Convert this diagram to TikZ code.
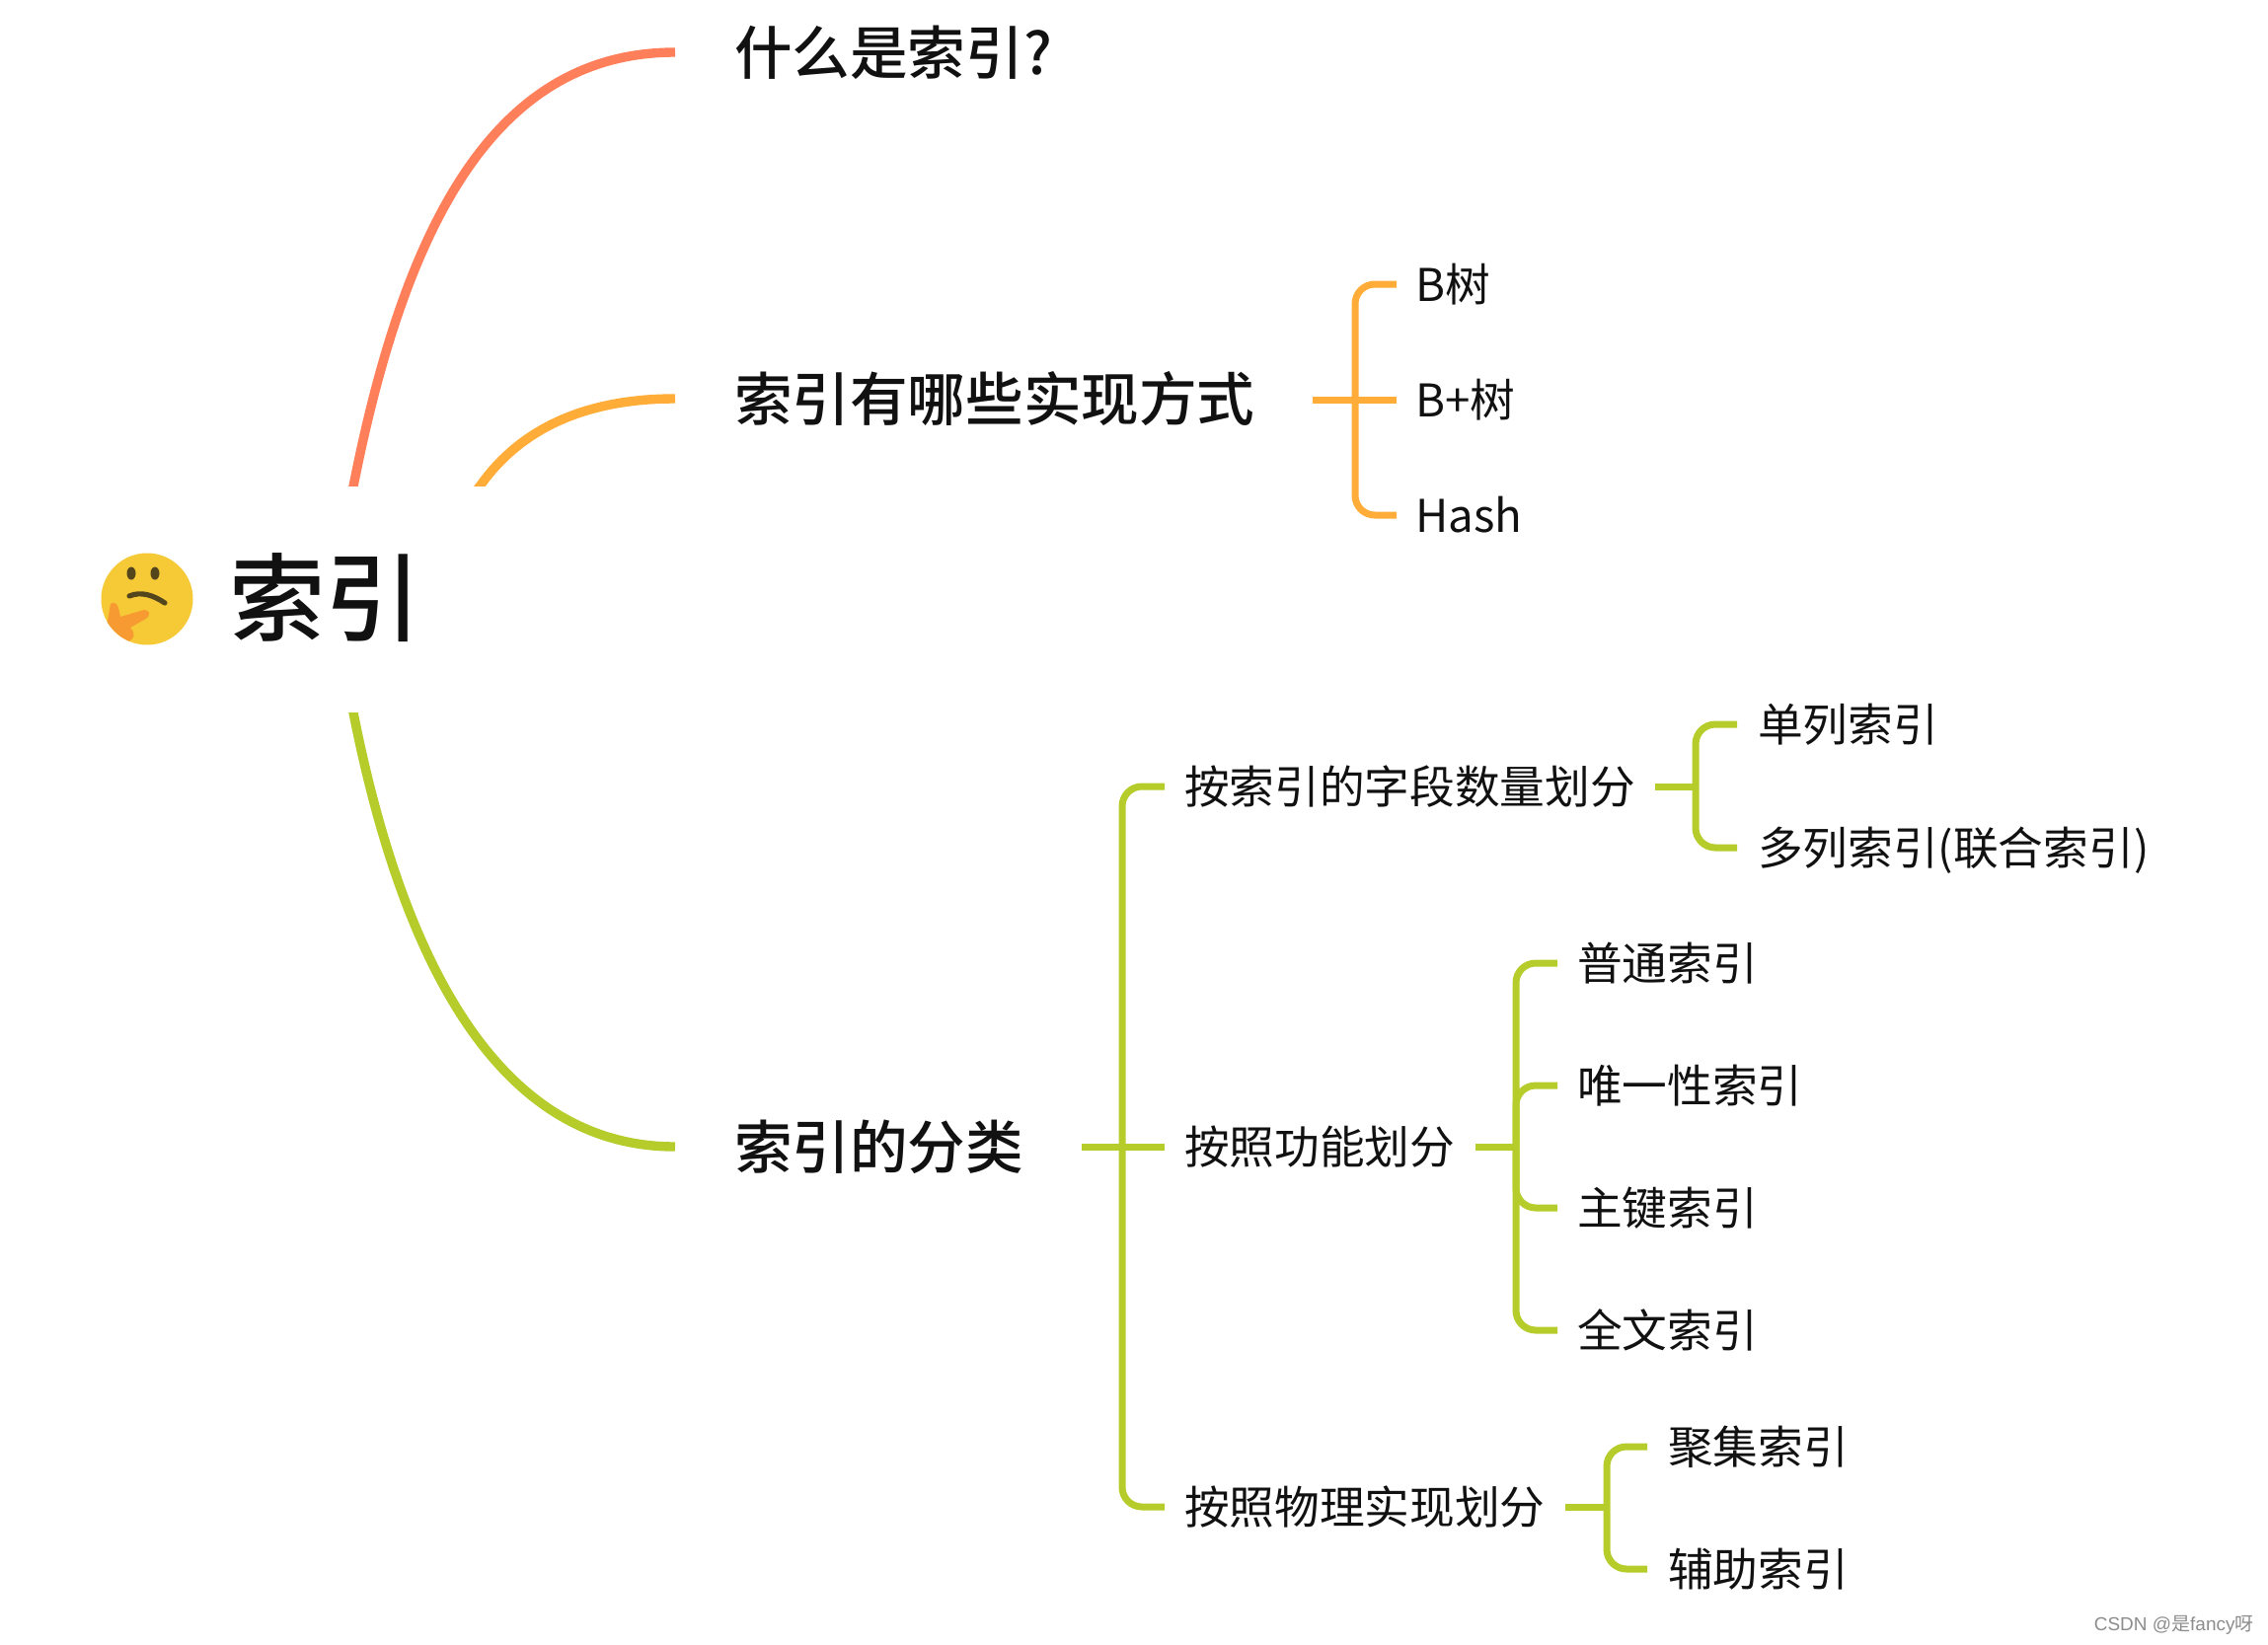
\documentclass[tikz,border=0pt]{standalone}
\usepackage{fontspec}
\usetikzlibrary{calc}
\newfontfamily\cjk{Noto Sans CJK SC}
\newfontfamily\cjkbold{Noto Sans CJK SC Medium}
\definecolor{cRed}{HTML}{FF7F5A}
\definecolor{cOrg}{HTML}{FFAC38}
\definecolor{cGrn}{HTML}{B5CC2B}
\definecolor{cInk}{HTML}{111111}
\definecolor{cFace}{HTML}{F6C936}
\definecolor{cHand}{HTML}{F79A32}
\definecolor{cEye}{HTML}{54461C}
\tikzset{
  x=0.5pt,y=-0.5pt,
  txt/.style={anchor=west,inner sep=0pt,outer sep=0pt,text=cInk},
  rootn/.style={txt,font=\cjkbold\fontsize{48.5}{52}\selectfont,text height=42.7pt,text depth=5.8pt},
  lone/.style={txt,font=\cjkbold\fontsize{29.3}{32}\selectfont,text height=25.8pt,text depth=3.5pt},
  ltwo/.style={txt,font=\cjk\fontsize{22.85}{25}\selectfont,text height=20.1pt,text depth=2.75pt},
  curve/.style={line width=4.7pt,line cap=butt},
  brk/.style={line width=3.5pt,rounded corners=10pt,line cap=butt},
}
\begin{document}
\begin{tikzpicture}
\useasboundingbox (0,0) rectangle (2298,1666);
% level 1
\node[lone] (a) at (744,53) {什么是索引?};
\node[lone] (b) at (744,404) {索引有哪些实现方式};
\node[lone] (c) at (744,1162) {索引的分类};
\coordinate (rA) at (358,493);
\coordinate (rB) at (486,493);
\coordinate (rC) at (358,722);
\draw[curve,cRed] ($(rA)+(-5,22)$) -- (rA) .. controls (410,230) and (500,53) .. ($(a.west)+(-60,0)$);
\draw[curve,cOrg] ($(rB)+(-16,20)$) -- (rB) .. controls (530,430) and (600,404) .. ($(b.west)+(-60,0)$);
\draw[curve,cGrn] ($(rC)+(-5,-22)$) -- (rC) .. controls (410,985) and (510,1162) .. ($(c.west)+(-60,0)$);
\fill[white] (100,493) rectangle (700,722);
% root
\node[rootn] (root) at (232,606) {索引};
% emoji
\fill[cFace] (149,607) circle (46.5);
\begin{scope}
\clip (149,607) circle (46.5);
\fill[cHand] (112,612) .. controls (118,608) and (120,614) .. (122,625) -- (146,618) .. controls (152,618) and (154,624) .. (146,628) -- (132,636) .. controls (138,642) and (136,648) .. (130,650) -- (100,650) -- (100,640) .. controls (110,640) and (110,620) .. (112,612) -- cycle;
\end{scope}
\fill[cEye] (133,581) ellipse (4.5 and 6.5);
\fill[cEye] (157,581) ellipse (4.5 and 6.5);
\draw[line width=2.6pt,line cap=round,draw=cEye] (131,604) .. controls (143,599) and (155,603) .. (167,611);
% B group
\node[ltwo] (b1) at (1434,288) {B树};
\node[ltwo] (b2) at (1434,405) {B+树};
\node[ltwo] (b3) at (1434,522) {Hash};
\coordinate (jb) at (1373,405);
\draw[brk,cOrg] ($(b1.west)+(-19,0)$) -| (jb) |- ($(b3.west)+(-19,0)$);
\draw[brk,cOrg] (1330,405) -- ($(b2.west)+(-19,0)$);
% classification
\node[ltwo] (p1) at (1200,797) {按索引的字段数量划分};
\node[ltwo] (p2) at (1200,1162) {按照功能划分};
\node[ltwo] (p3) at (1200,1527) {按照物理实现划分};
\coordinate (jc) at (1137,1162);
\draw[brk,cGrn] ($(p1.west)+(-20,0)$) -| (jc) |- ($(p3.west)+(-20,0)$);
\draw[brk,cGrn] ($(c.east)+(59,0)$) -- ($(p2.west)+(-20,0)$);
% group 1
\node[ltwo] (q1) at (1781,734) {单列索引};
\node[ltwo] (q2) at (1781,859) {多列索引(联合索引)};
\coordinate (j1) at (1718,797);
\draw[brk,cGrn] ($(q1.west)+(-21,0)$) -| (j1) |- ($(q2.west)+(-21,0)$);
\draw[brk,cGrn] (1677,797) -- (j1);
% group 2
\node[ltwo] (r1) at (1598,976) {普通索引};
\node[ltwo] (r2) at (1598,1100) {唯一性索引};
\node[ltwo] (r3) at (1598,1224) {主键索引};
\node[ltwo] (r4) at (1598,1348) {全文索引};
\coordinate (j2) at (1536,1162);
\draw[brk,cGrn] ($(r1.west)+(-20,0)$) -| (j2) |- ($(r4.west)+(-20,0)$);
\draw[brk,cGrn] (j2) |- ($(r2.west)+(-20,0)$);
\draw[brk,cGrn] (j2) |- ($(r3.west)+(-20,0)$);
\draw[brk,cGrn] (1495,1162) -- (j2);
% group 3
\node[ltwo] (s1) at (1690,1466) {聚集索引};
\node[ltwo] (s2) at (1690,1590) {辅助索引};
\coordinate (j3) at (1628,1527);
\draw[brk,cGrn] ($(s1.west)+(-21,0)$) -| (j3) |- ($(s2.west)+(-21,0)$);
\draw[brk,cGrn] (1586,1527) -- (j3);
% watermark
\node[anchor=east,inner sep=0pt,text=black!45,font=\fontsize{9.5}{11}\selectfont] (w) at (2284,1647) {\fontspec{Liberation Sans}CSDN @\cjk 是\fontspec{Liberation Sans}fancy\cjk 呀};
\end{tikzpicture}
\end{document}
